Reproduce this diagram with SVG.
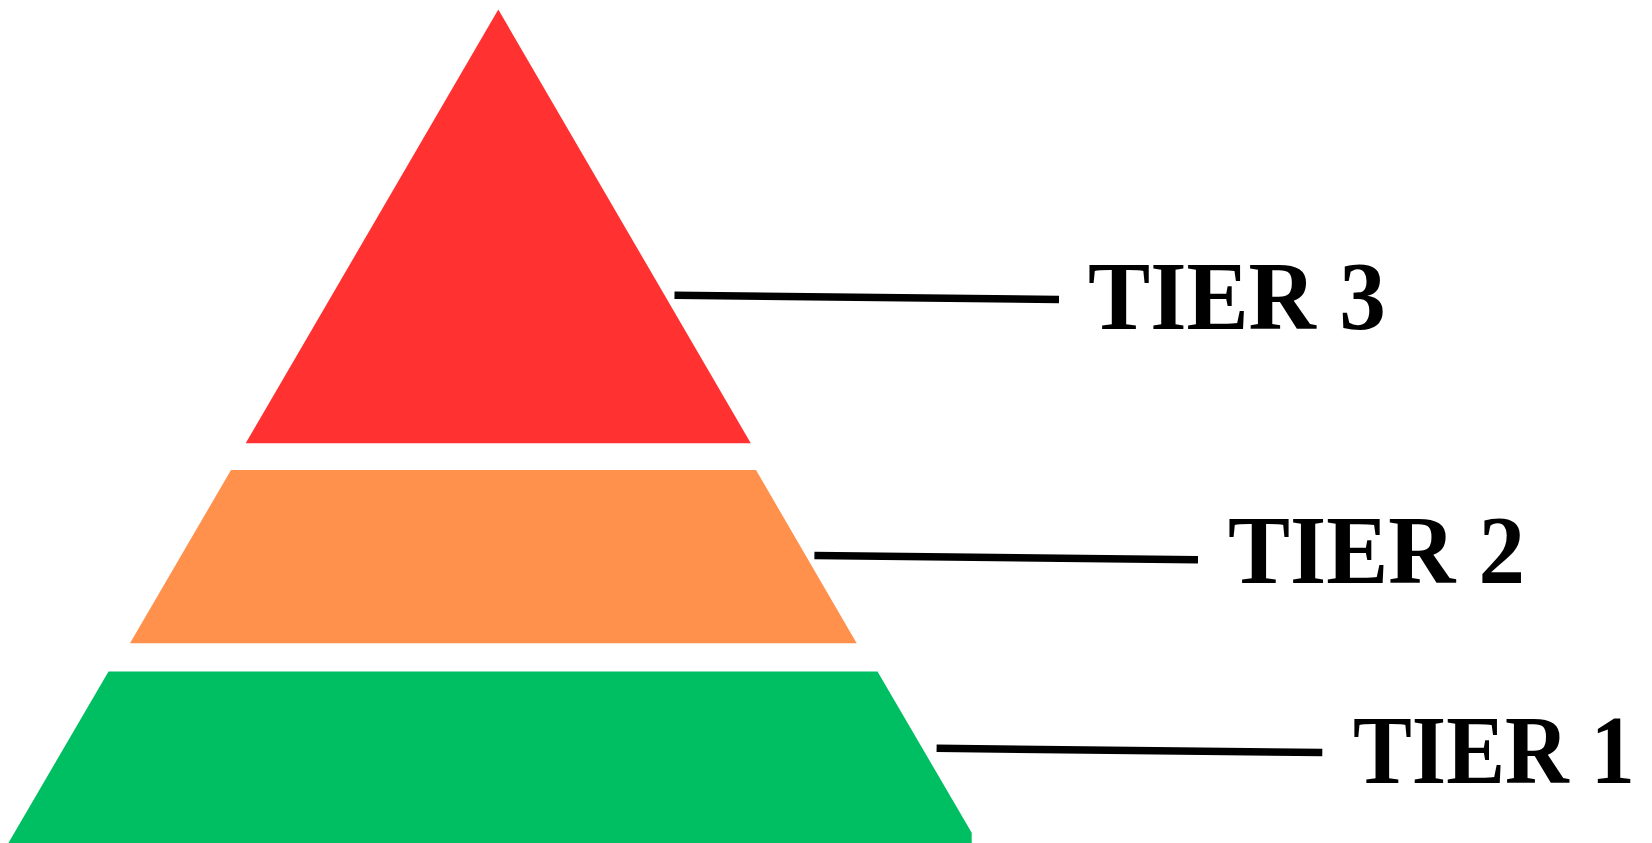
<svg xmlns="http://www.w3.org/2000/svg" width="1652" height="843" viewBox="0 0 1652 843">
<style>
.lbl{font-family:"Liberation Serif","DejaVu Serif",serif;font-weight:bold;font-size:98px;fill:#000}
.conn{stroke:#000;stroke-width:7.5;fill:none}
</style>
<rect width="1652" height="843" fill="#fff"/>
<g id="tier3"><polygon points="498.3,9.5 750.8,443.3 245.7,443.3" fill="#FF3131"/></g>
<g id="tier2"><polygon points="231,470 756,470 856.7,643.3 130,643.3" fill="#FF914D"/></g>
<g id="tier1"><polygon points="108.5,671.5 877.5,671.5 971.7,832.7 971.7,843 8.4,843" fill="#00BF63"/></g>
<g id="connectors">
<line class="conn" x1="674.5" y1="295.2" x2="1059" y2="299.5"/>
<line class="conn" x1="814.4" y1="555.4" x2="1198" y2="559.7"/>
<line class="conn" x1="936.6" y1="748.3" x2="1322.3" y2="752.6"/>
</g>
<g id="label3" transform="translate(1088,329) scale(0.75,1)"><text class="lbl" x="0" y="0" textLength="397" lengthAdjust="spacingAndGlyphs">TIER 3</text></g>
<g id="label2" transform="translate(1228,582.5) scale(0.75,1)"><text class="lbl" x="0" y="0" textLength="396" lengthAdjust="spacingAndGlyphs">TIER 2</text></g>
<g id="label1" transform="translate(1353,783) scale(0.75,1)"><text class="lbl" x="0" y="0" textLength="376" lengthAdjust="spacingAndGlyphs">TIER 1</text></g>
</svg>
